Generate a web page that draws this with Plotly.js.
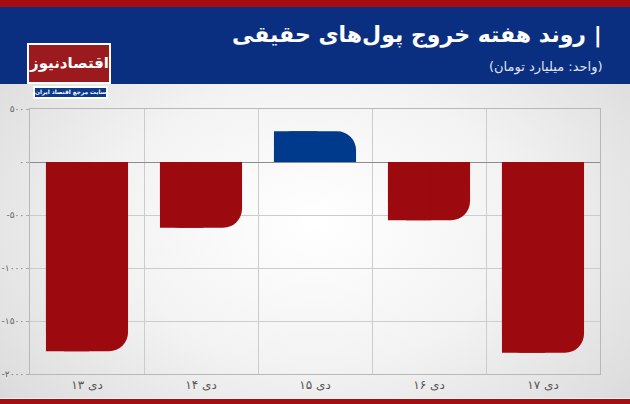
<!DOCTYPE html>
<html>
<head>
<meta charset="utf-8">
<script src="https://cdn.plot.ly/plotly-3.0.1.min.js"></script>
<style>
  html, body { margin: 0; padding: 0; }
  #chart {
    width: 630px; height: 404px;
    background: radial-gradient(ellipse at 50% 55%, #ffffff 0%, #f3f3f3 45%, #dedede 85%, #d2d2d2 100%);
  }
</style>
</head>
<body>
<div id="chart"></div>
<script>
// ---- data ----
const categories = ['۱۳ دی', '۱۴ دی', '۱۵ دی', '۱۶ دی', '۱۷ دی'];
const values = [-1785, -620, 290, -550, -1800];
const yTickVals = [500, 0, -500, -1000, -1500, -2000];
const yTickText = ['۵۰۰', '۰', '-۵۰۰', '-۱۰۰۰', '-۱۵۰۰', '-۲۰۰۰'];
const titleText = 'روند هفته خروج پول‌های حقیقی';
const subtitleText = '(واحد: میلیارد تومان)';
const logoText = 'اقتصادنیوز';
const logoTagline = 'سایت مرجع اقتصاد ایران';

// ---- styles ----
const RED = '#9c0a10';
const BLUE = '#003a8c';
const HEADER_BLUE = '#0b2f80';
const FONT = 'DejaVu Sans, sans-serif';

const W = 630, H = 404;
const M = {l: 30, r: 30, t: 109, b: 30};
const pw = W - M.l - M.r, ph = H - M.t - M.b;
const px = x => (x - M.l) / pw;
const py = y => (H - M.b - y) / ph;

const xs = categories.map((_, i) => i);
const colors = values.map(v => v < 0 ? RED : BLUE);

const traces = [
  {
    type: 'bar', x: xs, y: values,
    width: 0.72, offset: -0.36,
    marker: {color: colors, cornerradius: 19, line: {width: 0}},
    hoverinfo: 'skip'
  },
  {
    type: 'bar', x: xs, y: values,
    width: 0.38, offset: -0.36,
    marker: {color: colors, line: {width: 0}},
    hoverinfo: 'skip'
  }
];

function rect(x0, y0, x1, y1, fill, lineColor, lineWidth) {
  return {type: 'rect', xref: 'paper', yref: 'paper',
    x0: px(x0), x1: px(x1), y0: py(y0), y1: py(y1),
    fillcolor: fill, line: {color: lineColor || fill, width: lineWidth || 0}, layer: 'above'};
}

const shapes = [
  rect(0, 0, 630, 7, '#a50d12'),
  rect(0, 7, 630, 84, HEADER_BLUE),
  rect(0, 398, 630, 399, '#f4f4f4'),
  rect(0, 399, 630, 404, '#a50d12'),
  // logo
  rect(27, 43, 111, 84, '#ffffff'),
  rect(29, 45, 109, 82, '#9b1a1e'),
  rect(33, 86, 108, 99, '#ffffff'),
  rect(35, 88, 106, 97, '#0b3a8c')
];

const annotations = [
  {text: '\u202B| ' + titleText + '\u202C', xref: 'paper', yref: 'paper',
   x: px(604), y: py(35), xanchor: 'right', yanchor: 'middle', showarrow: false,
   font: {family: FONT, size: 22, color: '#ffffff', weight: 'bold'}},
  {text: '\u202B' + subtitleText + '\u202C', xref: 'paper', yref: 'paper',
   x: px(604), y: py(67), xanchor: 'right', yanchor: 'middle', showarrow: false,
   font: {family: FONT, size: 13, color: '#dfe4f0'}},
  {text: logoText, xref: 'paper', yref: 'paper',
   x: px(69), y: py(63.5), xanchor: 'center', yanchor: 'middle', showarrow: false,
   font: {family: FONT, size: 15, color: '#ffffff', weight: 'bold'}},
  {text: logoTagline, xref: 'paper', yref: 'paper',
   x: px(70.5), y: py(92.5), xanchor: 'center', yanchor: 'middle', showarrow: false,
   font: {family: FONT, size: 5.8, color: '#ffffff', weight: 'bold'}}
];

const layout = {
  width: W, height: H,
  margin: M,
  paper_bgcolor: 'rgba(0,0,0,0)',
  plot_bgcolor: 'rgba(0,0,0,0)',
  barmode: 'overlay',
  showlegend: false,
  font: {family: FONT, color: '#555555'},
  xaxis: {
    type: 'linear', range: [-0.5, 4.5],
    tickmode: 'array', tickvals: xs, ticktext: categories,
    showgrid: false, zeroline: false,
    showline: true, mirror: true, linecolor: '#b8b8b8', linewidth: 1,
    ticks: '', tickfont: {family: FONT, size: 12, color: '#555555'},
    minor: {tick0: -0.5, dtick: 1, showgrid: true, gridcolor: '#cccccc', gridwidth: 1, ticks: ''},
    fixedrange: true
  },
  yaxis: {
    range: [-2000, 500],
    tickmode: 'array', tickvals: yTickVals, ticktext: yTickText,
    showgrid: true, gridcolor: '#cccccc', gridwidth: 1,
    zeroline: true, zerolinecolor: '#8c8c8c', zerolinewidth: 1,
    showline: true, mirror: true, linecolor: '#b8b8b8', linewidth: 1,
    ticks: 'outside', ticklen: 3, tickcolor: '#aaaaaa',
    tickfont: {family: FONT, size: 9, color: '#666666'},
    fixedrange: true
  },
  shapes: shapes,
  annotations: annotations
};

Plotly.newPlot('chart', traces, layout, {staticPlot: true, displayModeBar: false});
</script>
</body>
</html>
